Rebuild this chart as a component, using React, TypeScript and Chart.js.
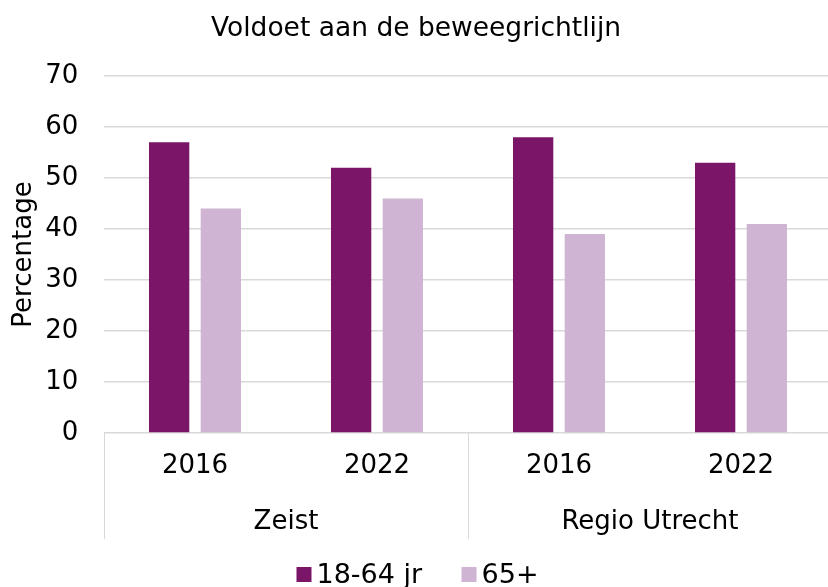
import React, { useEffect, useRef } from 'react';
import { Chart, registerables } from 'chart.js';

Chart.register(...registerables);

const chartTitle = 'Voldoet aan de beweegrichtlijn';
const yAxisTitle = 'Percentage';
const years = ['2016', '2022', '2016', '2022'];
const groups = ['Zeist', 'Regio Utrecht'];
const seriesNames = ['18-64 jr', '65+'];
const values1864 = [57, 52, 58, 53];
const values65plus = [44, 46, 39, 41];
const yMin = 0;
const yMax = 70;
const yStep = 10;

const colors = ['#7b1568', '#cfb4d3'];
const gridColor = '#d9d9d9';
const FONT = '"DejaVu Sans", Verdana, sans-serif';
const FS = 26;
const TITLE_FS = 26.5;
const LEGEND_FS = 27;

const W = 832;
const H = 587;

const separatorPlugin = {
  id: 'groupSeparators',
  afterDraw(chart: any) {
    const xs = chart.scales.x;
    const gs = chart.scales.group;
    if (!xs || !gs) return;
    const ctx = chart.ctx;
    const n = years.length;
    const per = n / groups.length;
    const catW = (xs.right - xs.left) / n;
    ctx.save();
    ctx.strokeStyle = gridColor;
    ctx.lineWidth = 1;
    for (let g = 0; g <= groups.length; g++) {
      const i = g * per;
      const x = i < n ? xs.getPixelForValue(i) - catW / 2 : xs.right;
      const px = Math.round(x) + 0.5;
      ctx.beginPath();
      ctx.moveTo(px, xs.top);
      ctx.lineTo(px, gs.bottom - 4);
      ctx.stroke();
    }
    ctx.restore();
  },
};

const legendPlugin = {
  id: 'customLegend',
  afterDraw(chart: any) {
    const ctx = chart.ctx;
    const ds = chart.data.datasets;
    const box = 15;
    const gap = 5;
    const itemGap = 39.4;
    ctx.save();
    ctx.font = `${LEGEND_FS}px ${FONT}`;
    const widths = ds.map((d: any) => ctx.measureText(d.label).width);
    let total = 0;
    widths.forEach((w: number, i: number) => {
      total += box + gap + w + (i < widths.length - 1 ? itemGap : 0);
    });
    let x = 417.5 - total / 2;
    const cy = 574.5;
    ds.forEach((d: any, i: number) => {
      ctx.fillStyle = d.backgroundColor;
      ctx.fillRect(x, cy - box / 2, box, box);
      x += box + gap;
      ctx.fillStyle = '#000';
      ctx.textAlign = 'left';
      ctx.textBaseline = 'alphabetic';
      ctx.fillText(d.label, x, cy + 8);
      x += widths[i] + itemGap;
    });
    ctx.restore();
  },
};

export default function App() {
  const ref = useRef<HTMLCanvasElement | null>(null);

  useEffect(() => {
    if (!ref.current) return;
    Chart.defaults.font.family = FONT;
    Chart.defaults.color = '#000';
    const chart = new Chart(ref.current, {
      type: 'bar',
      data: {
        labels: years,
        datasets: [
          { label: seriesNames[0], data: values1864, backgroundColor: colors[0] },
          { label: seriesNames[1], data: values65plus, backgroundColor: colors[1] },
        ],
      },
      options: {
        animation: false,
        responsive: false,
        devicePixelRatio: 1,
        categoryPercentage: 0.568,
        barPercentage: 0.78,
        layout: { padding: { left: 0, right: 0, top: 0, bottom: 43.8 } },
        plugins: {
          legend: { display: false },
          tooltip: { enabled: false },
          title: {
            display: true,
            text: chartTitle,
            font: { size: TITLE_FS, weight: 'normal', family: FONT },
            color: '#000',
            padding: { top: 13.1, bottom: 31.1 },
          },
        },
        scales: {
          x: {
            type: 'category',
            position: 'bottom',
            weight: 0,
            offset: true,
            grid: { display: false, drawTicks: false, tickLength: 0 },
            border: { display: false },
            ticks: { font: { size: FS, family: FONT }, padding: 18.1, color: '#000', maxRotation: 0, autoSkip: false },
          },
          group: {
            type: 'category',
            position: 'bottom',
            axis: 'x',
            weight: 1,
            offset: true,
            labels: groups,
            grid: { display: false, drawTicks: false, tickLength: 0 },
            border: { display: false },
            ticks: { font: { size: FS, family: FONT }, padding: 5.8, color: '#000', maxRotation: 0, autoSkip: false },
          },
          y: {
            min: yMin,
            max: yMax,
            ticks: { stepSize: yStep, font: { size: FS, family: FONT }, padding: 25.6, color: '#000' },
            grid: { color: gridColor, lineWidth: 1.5, drawTicks: false, tickLength: 0 },
            border: { display: false },
            title: {
              display: true,
              text: yAxisTitle,
              font: { size: FS, family: FONT },
              color: '#000',
              padding: { top: 8.4, bottom: -19.9 },
            },
          },
        },
      } as any,
      plugins: [separatorPlugin, legendPlugin],
    });
    return () => chart.destroy();
  }, []);

  return (
    <div style={{ position: 'fixed', left: 0, top: 0, width: 828, height: 587, overflow: 'hidden', background: '#fff' }}>
      <div style={{ width: W, height: H }}>
        <canvas ref={ref} width={W} height={H} style={{ display: 'block', width: W, height: H }} />
      </div>
    </div>
  );
}
